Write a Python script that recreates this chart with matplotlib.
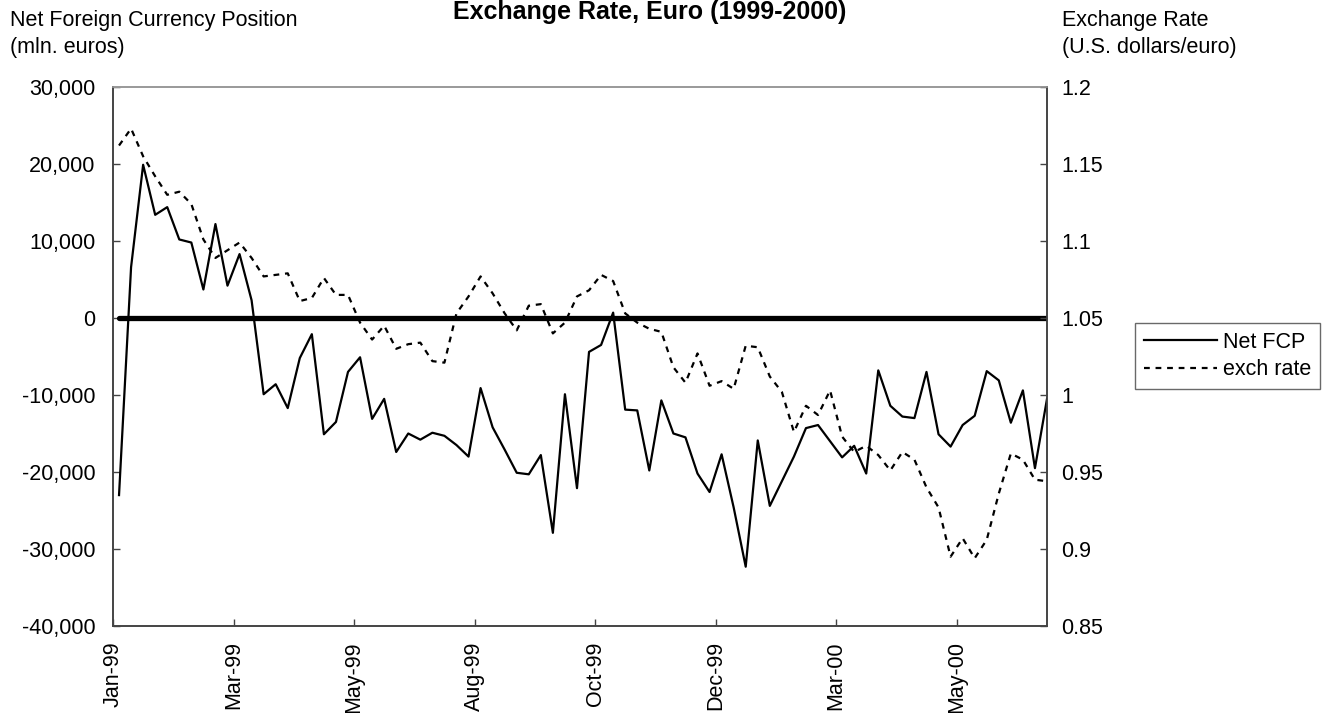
import matplotlib
matplotlib.use('Agg')
import matplotlib.pyplot as plt
import numpy as np

plt.rcParams['font.family'] = ['Liberation Sans', 'DejaVu Sans']

# weekly observations, Jan 1999 - Jun 2000
net_fcp = [-23000, 6600, 19900, 13400, 14400, 10200, 9800, 3700, 12200, 4200,
           8300, 2300, -9900, -8600, -11700, -5200, -2100, -15100, -13500, -7000,
           -5100, -13100, -10500, -17400, -15000, -15800, -14900, -15300, -16500, -18000,
           -9100, -14200, -17100, -20100, -20300, -17800, -27900, -9900, -22100, -4400,
           -3500, 700, -11900, -12000, -19800, -10700, -15000, -15500, -20200, -22600,
           -17700, -24600, -32300, -15900, -24400, -21200, -18000, -14300, -13900, -16000,
           -18100, -16600, -20200, -6800, -11400, -12800, -13000, -7000, -15100, -16700,
           -13900, -12700, -6900, -8100, -13600, -9400, -19500, -10500]

exch_rate = [1.162, 1.173, 1.155, 1.142, 1.130, 1.132, 1.124, 1.101, 1.089, 1.094,
             1.099, 1.089, 1.077, 1.078, 1.079, 1.061, 1.063, 1.076, 1.065, 1.065,
             1.047, 1.036, 1.045, 1.030, 1.033, 1.034, 1.022, 1.021, 1.053, 1.064,
             1.077, 1.066, 1.053, 1.042, 1.058, 1.059, 1.040, 1.047, 1.064, 1.068,
             1.078, 1.074, 1.053, 1.047, 1.043, 1.041, 1.018, 1.008, 1.027, 1.006,
             1.009, 1.004, 1.032, 1.031, 1.012, 1.002, 0.976, 0.993, 0.987, 1.003,
             0.973, 0.963, 0.967, 0.961, 0.951, 0.963, 0.958, 0.940, 0.927, 0.895,
             0.907, 0.894, 0.906, 0.936, 0.962, 0.958, 0.945, 0.944]

zero_line = [0] * len(net_fcp)

tick_labels = ['Jan-99', 'Mar-99', 'May-99', 'Aug-99', 'Oct-99', 'Dec-99', 'Mar-00', 'May-00']
left_ticks = [30000, 20000, 10000, 0, -10000, -20000, -30000, -40000]
left_labels = ['30,000', '20,000', '10,000', '0', '-10,000', '-20,000', '-30,000', '-40,000']
right_ticks = [1.2, 1.15, 1.1, 1.05, 1.0, 0.95, 0.9, 0.85]
right_labels = ['1.2', '1.15', '1.1', '1.05', '1', '0.95', '0.9', '0.85']

FS = 15.5
W, H = 1330, 713

x = np.arange(len(net_fcp))

fig = plt.figure(figsize=(13.3, 7.13), dpi=100)
ax = fig.add_axes([113 / W, 1 - 626 / H, (1047 - 113) / W, (626 - 87) / H])
ax2 = ax.twinx()

ax.plot(x, zero_line, color='black', lw=3.8, solid_capstyle='round', zorder=3)
l1, = ax.plot(x, net_fcp, color='black', lw=1.6, zorder=4)
l2, = ax2.plot(x, exch_rate, color='black', lw=1.6, linestyle=(0, (2.6, 2.6)))

ax.set_xlim(-0.5, 77.0)
ax.set_ylim(-40000, 30000)
ax2.set_ylim(0.85, 1.2)

ax.set_xticks(np.arange(len(tick_labels)) * 10 - 0.5)
ax.set_xticklabels(tick_labels, rotation=90, fontsize=FS)
ax.set_yticks(left_ticks)
ax.set_yticklabels(left_labels, fontsize=FS)
ax2.set_yticks(right_ticks)
ax2.set_yticklabels(right_labels, fontsize=FS)

ax.tick_params(axis='x', direction='in', length=5, width=1, color='#444444', pad=11)
ax.tick_params(axis='y', direction='in', length=5, width=1, color='#444444', pad=12.5)
ax2.tick_params(axis='y', direction='in', length=5, width=1, color='#444444', pad=10.5)

for a in (ax, ax2):
    for side in ('left', 'bottom', 'right'):
        a.spines[side].set_color('#444444')
        a.spines[side].set_linewidth(1.2)
    a.spines['top'].set_color('#999999')
    a.spines['top'].set_linewidth(1.2)

fig.text(650 / W, 1 - 19 / H, 'Exchange Rate, Euro (1999-2000)', fontsize=18,
         fontweight='bold', ha='center', va='baseline')
fig.text(10 / W, 1 - 26 / H, 'Net Foreign Currency Position', fontsize=FS, va='baseline')
fig.text(10 / W, 1 - 53 / H, '(mln. euros)', fontsize=FS, va='baseline')
fig.text(1062 / W, 1 - 26 / H, 'Exchange Rate', fontsize=FS, va='baseline')
fig.text(1062 / W, 1 - 53 / H, '(U.S. dollars/euro)', fontsize=FS, va='baseline')

leg = fig.legend([l1, l2], ['Net FCP', 'exch rate'], loc='upper left',
                 bbox_to_anchor=(1135 / W, 1 - 323 / H), fontsize=FS,
                 handlelength=3.4, handletextpad=0.28, labelspacing=0.3,
                 borderpad=0.4, borderaxespad=0, fancybox=False, frameon=True)
leg.get_frame().set_edgecolor('#444444')
leg.get_frame().set_linewidth(1.0)

fig.savefig('out.png', dpi=100)
